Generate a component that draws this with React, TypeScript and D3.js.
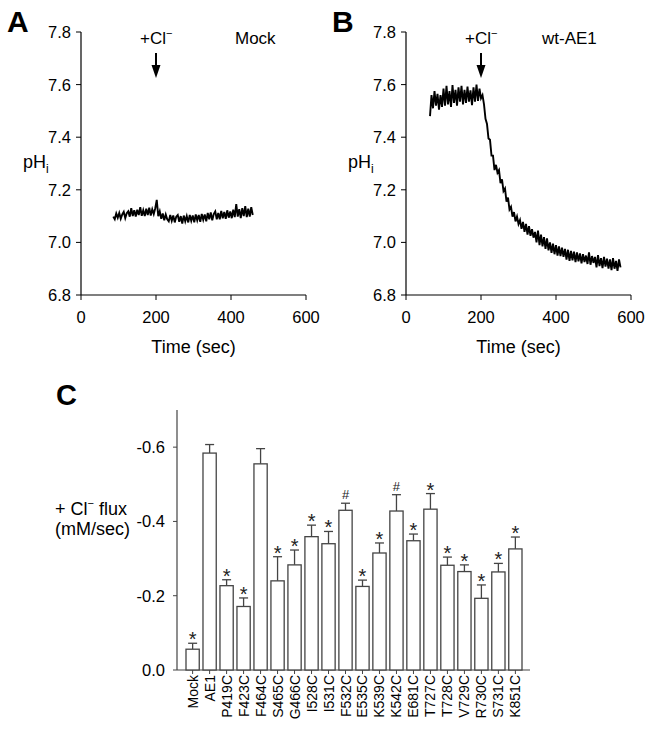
import React from "react";
import * as d3 from "d3";

// ---------- Data ----------
const phTicks = [6.8, 7.0, 7.2, 7.4, 7.6, 7.8];
const timeTicks = [0, 200, 400, 600];

const mockStart = 86;
const mockStep = 4;
const mockPh = [
  7.098, 7.088, 7.110, 7.094, 7.112, 7.090, 7.106, 7.116, 7.092, 7.111,
  7.118, 7.098, 7.130, 7.100, 7.122, 7.098, 7.124, 7.104, 7.134, 7.101,
  7.122, 7.100, 7.128, 7.104, 7.132, 7.102, 7.126, 7.108, 7.130, 7.162,
  7.100, 7.118, 7.090, 7.110, 7.084, 7.106, 7.088, 7.080, 7.104, 7.082,
  7.102, 7.076, 7.098, 7.104, 7.078, 7.100, 7.072, 7.102, 7.080, 7.100,
  7.076, 7.104, 7.082, 7.102, 7.076, 7.106, 7.084, 7.104, 7.078, 7.108,
  7.086, 7.106, 7.080, 7.112, 7.088, 7.114, 7.084, 7.108, 7.118, 7.088,
  7.112, 7.088, 7.120, 7.092, 7.116, 7.090, 7.122, 7.094, 7.118, 7.092,
  7.124, 7.096, 7.146, 7.098, 7.126, 7.092, 7.130, 7.100, 7.138, 7.096,
  7.128, 7.098, 7.134, 7.104,
];

const wtStart = 64;
const wtStep = 4;
const wtPh = [
  7.480, 7.560, 7.510, 7.575, 7.520, 7.565, 7.505, 7.560, 7.515, 7.585,
  7.520, 7.595, 7.525, 7.575, 7.515, 7.598, 7.530, 7.580, 7.520, 7.590,
  7.535, 7.595, 7.525, 7.580, 7.530, 7.592, 7.535, 7.578, 7.522, 7.590,
  7.535, 7.600, 7.538, 7.585, 7.548, 7.560, 7.525, 7.470, 7.450, 7.395,
  7.390, 7.330, 7.330, 7.275, 7.295, 7.265, 7.275, 7.225, 7.240, 7.195,
  7.205, 7.155, 7.170, 7.125, 7.135, 7.098, 7.115, 7.080, 7.098, 7.070,
  7.085, 7.052, 7.078, 7.040, 7.070, 7.030, 7.062, 7.025, 7.050, 7.018,
  7.040, 7.000, 7.045, 6.990, 7.030, 6.985, 7.020, 6.975, 7.015, 6.970,
  7.000, 6.960, 6.995, 6.955, 6.990, 6.950, 6.985, 6.948, 6.980, 6.945,
  6.975, 6.935, 6.972, 6.930, 6.968, 6.932, 6.965, 6.925, 6.962, 6.928,
  6.958, 6.920, 6.955, 6.925, 6.950, 6.918, 6.962, 6.915, 6.948, 6.922,
  6.945, 6.905, 6.952, 6.910, 6.940, 6.902, 6.945, 6.908, 6.938, 6.900,
  6.935, 6.895, 6.940, 6.900, 6.930, 6.892, 6.935, 6.905,
];

const mutants = [
  "Mock", "AE1", "P419C", "F423C", "F464C", "S465C", "G466C", "I528C", "I531C",
  "F532C", "E535C", "K539C", "K542C", "E681C", "T727C", "T728C", "V729C",
  "R730C", "S731C", "K851C",
];
const fluxMean = [
  0.056, 0.584, 0.227, 0.171, 0.555, 0.240, 0.283, 0.359, 0.340, 0.430,
  0.225, 0.315, 0.428, 0.348, 0.433, 0.282, 0.265, 0.193, 0.264, 0.326,
];
const fluxErr = [
  0.016, 0.023, 0.016, 0.023, 0.041, 0.065, 0.040, 0.031, 0.033, 0.019,
  0.017, 0.027, 0.044, 0.018, 0.042, 0.022, 0.018, 0.036, 0.023, 0.032,
];
const fluxMark = [
  "*", "", "*", "*", "", "*", "*", "*", "*", "#",
  "*", "*", "#", "*", "*", "*", "*", "*", "*", "*",
];
const fluxTicks = [0, 0.2, 0.4, 0.6];

// ---------- Components ----------
const FONT = "'Liberation Sans', Arial, Helvetica, sans-serif";

type TraceProps = {
  x0: number;
  label: string;
  labelX: number;
  letter: string;
  start: number;
  step: number;
  values: number[];
};

function TracePanel({ x0, label, labelX, letter, start, step, values }: TraceProps) {
  const x = d3.scaleLinear().domain([0, 600]).range([x0, x0 + 225]);
  const y = d3.scaleLinear().domain([6.8, 7.8]).range([295, 32]);
  const pts: [number, number][] = values.map((v, i) => [start + i * step, v]);
  const line = d3
    .line<[number, number]>()
    .x((d) => x(d[0]))
    .y((d) => y(d[1]));
  const ax = x(200);
  return (
    <g fontFamily={FONT} fill="#000">
      <text x={x0 - 74} y={32} fontSize={30} fontWeight="bold">
        {letter}
      </text>
      {/* axes */}
      <line x1={x0} x2={x0} y1={y(7.8)} y2={y(6.8)} stroke="#000" strokeWidth={1.2} />
      <line x1={x0} x2={x(600)} y1={y(6.8)} y2={y(6.8)} stroke="#000" strokeWidth={1.2} />
      {phTicks.map((t) => (
        <g key={t}>
          <line x1={x0 - 5} x2={x0} y1={y(t)} y2={y(t)} stroke="#000" />
          <text x={x0 - 10} y={y(t) + 6} fontSize={16.5} textAnchor="end">
            {t.toFixed(1)}
          </text>
        </g>
      ))}
      {timeTicks.map((t) => (
        <g key={t}>
          <line x1={x(t)} x2={x(t)} y1={y(6.8)} y2={y(6.8) + 5} stroke="#000" />
          <text x={x(t)} y={y(6.8) + 28} fontSize={16.5} textAnchor="middle">
            {t}
          </text>
        </g>
      ))}
      <text x={(x(0) + x(600)) / 2} y={353} fontSize={18} textAnchor="middle">
        Time (sec)
      </text>
      <text x={x0 - 58} y={168} fontSize={18}>
        pH
        <tspan fontSize={12} dy={5}>i</tspan>
      </text>
      {/* annotation */}
      <text x={ax - 16} y={44} fontSize={17}>
        +Cl
        <tspan fontSize={11} dy={-7}>−</tspan>
      </text>
      <text x={labelX} y={44} fontSize={17}>
        {label}
      </text>
      <line x1={ax} x2={ax} y1={53} y2={68} stroke="#000" strokeWidth={2} />
      <path d={`M${ax - 4.5},65 L${ax + 4.5},65 L${ax},78 Z`} fill="#000" />
      {/* trace */}
      <path d={line(pts) || ""} fill="none" stroke="#000" strokeWidth={1.9} />
    </g>
  );
}

function FluxPanel() {
  const x = d3.scaleBand<string>().domain(mutants).range([186, 522]).paddingInner(0.22);
  const y = d3.scaleLinear().domain([0, 0.7]).range([670, 410]);
  const bw = x.bandwidth();
  return (
    <g fontFamily={FONT} fill="#000">
      <text x={56} y={405} fontSize={29} fontWeight="bold">
        C
      </text>
      <text x={55} y={515} fontSize={18}>
        + Cl
        <tspan fontSize={11} dy={-8}>−</tspan>
        <tspan dy={8}> flux</tspan>
      </text>
      <text x={55} y={535} fontSize={18}>
        (mM/sec)
      </text>
      <line x1={177} x2={177} y1={y(0.7)} y2={y(0)} stroke="#444" strokeWidth={1.2} />
      <line x1={177} x2={530} y1={y(0)} y2={y(0)} stroke="#444" strokeWidth={1.2} />
      {fluxTicks.map((t) => (
        <g key={t}>
          <line x1={173} x2={177} y1={y(t)} y2={y(t)} stroke="#444" />
          <text x={165} y={y(t) + 6} fontSize={16.5} textAnchor="end">
            {t === 0 ? "0.0" : "-" + t.toFixed(1)}
          </text>
        </g>
      ))}
      {mutants.map((m, i) => {
        const cx = (x(m) as number) + bw / 2;
        const top = y(fluxMean[i]);
        const et = y(fluxMean[i] + fluxErr[i]);
        const star = fluxMark[i] === "*";
        return (
          <g key={m}>
            <line x1={cx} x2={cx} y1={top} y2={et} stroke="#444" strokeWidth={1.3} />
            <line x1={cx - 4.5} x2={cx + 4.5} y1={et} y2={et} stroke="#444" strokeWidth={1.3} />
            <rect
              x={x(m)}
              y={top}
              width={bw}
              height={y(0) - top}
              fill="#fff"
              stroke="#444"
              strokeWidth={1.3}
            />
            <line x1={cx} x2={cx} y1={y(0)} y2={y(0) + 4} stroke="#444" />
            {fluxMark[i] && (
              <text
                x={cx}
                y={star ? et + 3 : et - 4}
                fontSize={star ? 20 : 13}
                textAnchor="middle"
                fill="#222"
              >
                {fluxMark[i]}
              </text>
            )}
            <text
              transform={`translate(${cx + 5},${y(0) + 5}) rotate(-90)`}
              fontSize={14}
              textAnchor="end"
            >
              {m}
            </text>
          </g>
        );
      })}
    </g>
  );
}

export default function App() {
  return (
    <svg
      width={647}
      height={730}
      style={{ position: "absolute", left: 0, top: 0, background: "#fff" }}
    >
      <rect width={647} height={730} fill="#fff" />
      <TracePanel x0={81} label="Mock" labelX={235} letter="A" start={mockStart} step={mockStep} values={mockPh} />
      <TracePanel x0={406} label="wt-AE1" labelX={542} letter="B" start={wtStart} step={wtStep} values={wtPh} />
      <FluxPanel />
    </svg>
  );
}
